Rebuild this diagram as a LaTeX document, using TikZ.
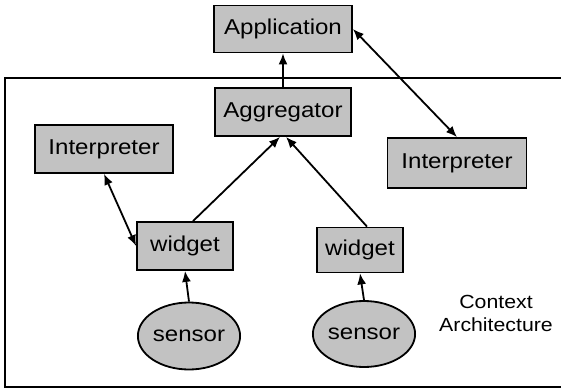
\documentclass[tikz,border=0pt]{standalone}
\usepackage{fontspec}
\setmainfont[FakeStretch=1.12]{Liberation Sans}
\usetikzlibrary{arrows.meta,shapes.geometric,calc}
\begin{document}
\begin{tikzpicture}[x=1pt,y=-1pt,
  box/.style={draw,line width=1.8pt,fill=gray!48,inner sep=0pt,
    font=\fontsize{21.5}{24}\selectfont},
  sens/.style={draw,ellipse,line width=1.8pt,fill=gray!48,inner sep=0pt,
    font=\fontsize{21.5}{24}\selectfont},
  arr/.style={-{Latex[length=11pt,width=9pt]},line width=1.8pt},
  darr/.style={{Latex[length=11pt,width=9pt]}-{Latex[length=11pt,width=9pt]},line width=1.8pt}]
\useasboundingbox (0,0) rectangle (561,390);
\draw[line width=1.8pt] (561,78) -- (5,78) -- (5,387) -- (561,387);
\node[box,minimum width=138pt,minimum height=47pt] (app) at (283,29) {Application};
\node[box,minimum width=136pt,minimum height=48pt] (agg) at (283,112) {Aggregator};
\node[box,minimum width=138pt,minimum height=48pt] (intL) at (104,149) {Interpreter};
\node[box,minimum width=139pt,minimum height=50pt] (intR) at (457,163) {Interpreter};
\node[box,minimum width=96pt,minimum height=48pt] (wL) at (185,246) {widget};
\node[box,minimum width=86pt,minimum height=45pt] (wR) at (360,250) {widget};
\node[sens,minimum width=78pt,minimum height=67pt] (sL) at (189,336) {sensor};
\node[sens,minimum width=78pt,minimum height=66pt] (sR) at (364,334) {sensor};
\node[font=\fontsize{19}{23}\selectfont,align=center] (ctx) at (496,313) {Context\\Architecture};
\coordinate (wLn) at ($(wL.north)+(8,0)$);
\coordinate (wRn) at ($(wR.north)+(7,0)$);
\coordinate (aggL) at ($(agg.south)+(-3,0)$);
\coordinate (aggR) at ($(agg.south)+(3,0)$);
\draw[arr] (agg.north) -- (app.south);
\draw[darr] (app.east) -- (intR.north);
\draw[darr] (intL.south) -- (wL.west);
\draw[arr] (wLn) -- (aggL);
\draw[arr] (wRn) -- (aggR);
\draw[arr] (sL.north) -- (wL.south);
\draw[arr] (sR.north) -- (wR.south);
\end{tikzpicture}
\end{document}
